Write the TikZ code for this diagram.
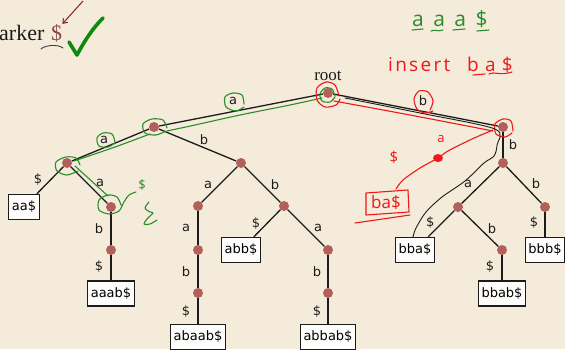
\documentclass[tikz,border=0pt]{standalone}
\usepackage{fontspec}
\newfontfamily\treefont{DejaVu Sans}
\newfontfamily\handfont{Open Sans}
\newfontfamily\slidefont{Liberation Serif}
\usetikzlibrary{arrows.meta}

\definecolor{paper}{HTML}{F4EBDA}
\definecolor{vertex}{HTML}{B35F5A}
\definecolor{ink}{HTML}{1C1C1C}
\definecolor{penred}{HTML}{F01818}
\definecolor{pengreen}{HTML}{2A8C2A}
\definecolor{checkgreen}{HTML}{0B8A0B}
\definecolor{darkred}{HTML}{8E1C1C}
\definecolor{dollar}{HTML}{8A4A48}

\tikzset{
  vtx/.style={circle, fill=vertex, minimum size=10pt, inner sep=0pt},
  leaf/.style={draw=ink, line width=1.3pt, fill=white!92!paper,
    font=\treefont\fontsize{13}{13}\selectfont, inner xsep=3.3pt, inner ysep=0pt,
    minimum height=25pt, text height=10pt, text depth=2.5pt},
  edge/.style={draw=ink, line width=1.3pt},
  lbl/.style={font=\treefont\fontsize{13}{13}\selectfont, text=ink, inner sep=0pt, anchor=center},
  hand/.style={line width=1.1pt, line cap=round, line join=round},
  handtext/.style={font=\handfont\fontsize{#1}{#1}\selectfont, inner sep=0pt},
}

\begin{document}
\begin{tikzpicture}[x=1pt,y=-1pt]
  \useasboundingbox (0,0) rectangle (565,349);
  \fill[paper] (0,0) rectangle (565,349);

  % heading fragment with the end marker
  \node[anchor=base west, inner sep=0pt, font=\slidefont\fontsize{22}{22}\selectfont, text=ink] (marker) at (-1,40) {arker};
  \node[anchor=base west, inner sep=0pt, font=\slidefont\fontsize{22}{22}\selectfont, text=dollar] (dol) at (51,40) {\$};
  \coordinate (arrowtail) at (83,1);
  \draw[darkred, line width=1pt, -{Straight Barb[length=4pt,width=6pt]}] (arrowtail) -- (dol.north east);
  \draw[ink!85, line width=0.9pt, line cap=round] (41,49) .. controls (45,45) and (58,44) .. (63,48);
  \draw[checkgreen, line width=3.6pt, line cap=round, line join=round]
    (69,42) -- (77,55) .. controls (85,40) and (93,28) .. (103,18);

  % tree vertices
  \node[vtx] (r)     at (328,93)  {};
  \node[anchor=base, inner sep=0pt, font=\slidefont\fontsize{17}{17}\selectfont, text=ink] (rootlbl) at (328,80) {root};
  \node[vtx] (a)     at (154,127) {};
  \node[vtx] (b)     at (503,127) {};
  \node[vtx] (aa)    at (67,163)  {};
  \node[vtx] (ab)    at (241,163) {};
  \node[vtx] (bb)    at (503,163) {};
  \node[vtx] (aaa)   at (111,207) {};
  \node[vtx] (aba)   at (198,206) {};
  \node[vtx] (abb)   at (284,206) {};
  \node[vtx] (bba)   at (458,207) {};
  \node[vtx] (bbb)   at (545,207) {};
  \node[vtx] (aaab)  at (111,250) {};
  \node[vtx] (abaa)  at (198,250) {};
  \node[vtx] (abba)  at (328,250) {};
  \node[vtx] (bbab)  at (502,250) {};
  \node[vtx] (abaab) at (198,293) {};
  \node[vtx] (abbab) at (328,293) {};

  % leaves
  \node[leaf] (Laa)    at (24,207)    {aa\$};
  \node[leaf] (Laaab)  at (111,293.5) {aaab\$};
  \node[leaf] (Labb)   at (241,250)   {abb\$};
  \node[leaf] (Lbba)   at (415,250)   {bba\$};
  \node[leaf] (Lbbb)   at (545,250)   {bbb\$};
  \node[leaf] (Lbbab)  at (502,293.5) {bbab\$};
  \node[leaf] (Labaab) at (198,337)   {abaab\$};
  \node[leaf] (Labbab) at (328,337)   {abbab\$};

  % tree edges with their labels
  \path[edge] (r) -- node[lbl, xshift=-8pt, yshift=9pt] {a} (a);
  \path[edge] (r) -- node[lbl, xshift=7.5pt, yshift=9pt] {b} (b);
  \path[edge] (a) -- node[lbl, xshift=-6.5pt, yshift=5pt] {a} (aa);
  \path[edge] (a) -- node[lbl, xshift=6.5pt, yshift=5pt] {b} (ab);
  \path[edge] (aa) -- node[lbl, xshift=-12pt, yshift=1pt] {\$} (Laa);
  \path[edge] (aa) -- node[lbl, xshift=11pt, yshift=2pt] {a} (aaa);
  \path[edge] (aaa) -- node[lbl, xshift=-12pt] {b} (aaab);
  \path[edge] (aaab) -- node[lbl, xshift=-12pt, yshift=1pt] {\$} (Laaab);
  \path[edge] (ab) -- node[lbl, xshift=-11.5pt] {a} (aba);
  \path[edge] (ab) -- node[lbl, xshift=12.5pt] {b} (abb);
  \path[edge] (aba) -- node[lbl, xshift=-12pt] {a} (abaa);
  \path[edge] (abaa) -- node[lbl, xshift=-12pt] {b} (abaab);
  \path[edge] (abaab) -- node[lbl, xshift=-12pt] {\$} (Labaab);
  \path[edge] (abb) -- node[lbl, xshift=-11pt] {\$} (Labb);
  \path[edge] (abb) -- node[lbl, xshift=12pt] {a} (abba);
  \path[edge] (abba) -- node[lbl, xshift=-11pt] {b} (abbab);
  \path[edge] (abbab) -- node[lbl, xshift=-11pt] {\$} (Labbab);
  \path[edge] (b) -- node[lbl, xshift=10pt] {b} (bb);
  \path[edge] (bb) -- node[lbl, xshift=-12.5pt, yshift=1pt] {a} (bba);
  \path[edge] (bb) -- node[lbl, xshift=12pt, yshift=1pt] {b} (bbb);
  \path[edge] (bba) -- node[lbl, xshift=-11pt, yshift=1pt] {\$} (Lbba);
  \path[edge] (bba) -- node[lbl, xshift=12pt] {b} (bbab);
  \path[edge] (bbab) -- node[lbl, xshift=-12pt, yshift=1pt] {\$} (Lbbab);
  \path[edge] (bbb) -- node[lbl, xshift=-11pt, yshift=2pt] {\$} (Lbbb);

  % pen notes: the string aaa$
  \node[handtext=21, text=pengreen, anchor=base west] (word) at (412,26)
    {\addfontfeature{LetterSpace=45}aaa\$};
  \draw[pengreen, hand] (412,30) -- (423,29);
  \draw[pengreen, hand] (431,31) .. controls (435,29) and (438,32) .. (443,30);
  \draw[pengreen, hand] (453,30) -- (465,29);
  \draw[pengreen, hand] (477,31) -- (489,30);

  % pen notes: the insertion
  \node[handtext=19, text=penred, anchor=base west] (insert) at (388,71)
    {{\addfontfeature{LetterSpace=12}insert}\hspace{17pt}{\addfontfeature{LetterSpace=33}ba\$}};
  \draw[penred, hand] (473,75) -- (485,74);
  \draw[penred, hand] (489,74) .. controls (494,71) and (500,76) .. (512,72);

  % green walk down the a-branch
  \draw[pengreen, hand] plot[smooth] coordinates {(335,96) (332,89) (325,88) (320,94) (322,101) (330,102) (335,97)};
  \draw[pengreen, hand] plot[smooth] coordinates {(322,98) (290,105) (240,115) (195,125) (167,131)};
  \draw[pengreen, hand] plot[smooth] coordinates {(244,104) (242,95) (233,93) (225,97) (226,107) (236,111) (244,107)};
  \draw[pengreen, hand] plot[smooth] coordinates {(167,128) (163,120) (152,119) (143,124) (145,133) (156,135) (166,131)};
  \draw[pengreen, hand] plot[smooth] coordinates {(150,134) (115,147) (74,161)};
  \draw[pengreen, hand] plot[smooth] coordinates {(115,142) (112,134) (103,133) (97,138) (99,146) (108,147) (115,143)};
  \draw[pengreen, hand] plot[smooth] coordinates {(80,165) (76,158) (66,157) (56,162) (57,171) (67,175) (78,171)};
  \draw[pengreen, hand] (75,166) -- (108,196);
  \draw[pengreen, hand] plot[smooth] coordinates {(121,205) (117,197) (108,195) (99,200) (99,210) (109,214) (119,211) (124,202) (129,195) (136,192)};
  \node[handtext=13, text=pengreen] (gdollar) at (142,185) {\$};
  \draw[pengreen, hand] plot[smooth] coordinates {(149,202) (145,208) (150,212) (153,213) (147,219) (144,224) (150,224) (157,220)};

  % red walk down the b-branch and the new leaf
  \draw[penred, hand] plot[smooth] coordinates {(339,96) (335,85) (326,82) (317,88) (317,100) (325,107) (336,105) (340,99)};
  \draw[penred, hand] plot[smooth] coordinates {(430,110) (433,101) (428,92) (419,91) (414,99) (417,109) (425,113) (433,111)};
  \draw[penred, hand] plot[smooth] coordinates {(513,131) (511,121) (503,119) (495,124) (496,134) (505,137) (512,133)};
  \draw[penred, hand] plot[smooth] coordinates {(334,101) (410,115) (493,131)};
  \draw[penred, hand] plot[smooth] coordinates {(493,130) (472,139) (448,151) (438,158) (420,168) (403,180) (396,189)};
  \fill[penred] (438,158) ellipse [x radius=5pt, y radius=4pt];
  \node[handtext=13, text=penred] (ra) at (441,139) {a};
  \node[handtext=15, text=penred] (rdollar) at (394,157) {\$};
  \draw[penred, hand] (366,193) -- (408,190) -- (409,212) -- (366,215) -- cycle;
  \draw[penred, hand] (355,223) -- (410,215);
  \node[handtext=17, text=penred] (newleaf) at (386,203) {ba\$};

  % black trace to the leaf bba$
  \draw[ink, line width=0.9pt, line cap=round, line join=round]
    plot[smooth] coordinates {(345,98) (420,113) (495,129) (497,145) (494,156) (484,163) (465,181) (442,197) (426,212) (416,228) (413,237)};
\end{tikzpicture}
\end{document}
